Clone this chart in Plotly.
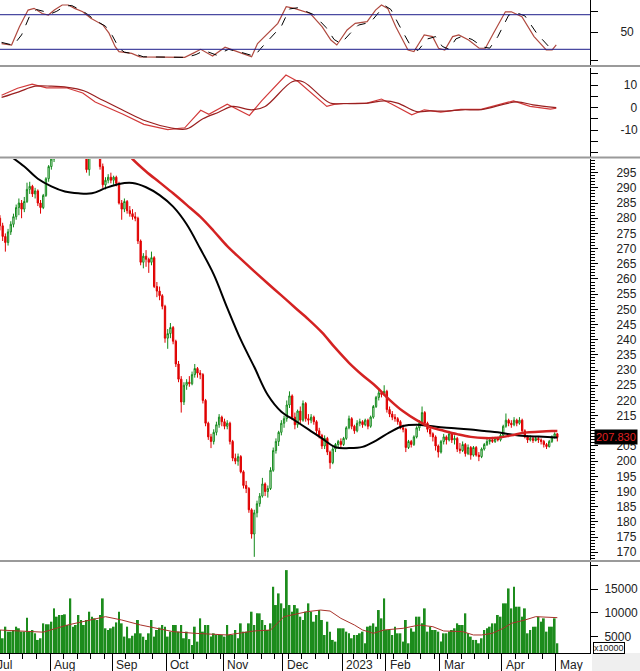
import plotly.graph_objects as go
import pandas as pd

# ---------------- trading calendar ----------------
holidays = {"2022-09-01", "2022-09-02", "2023-01-02", "2023-01-20", "2023-01-23",
            "2023-01-24", "2023-01-25", "2023-01-26", "2023-05-01", "2023-05-02", "2023-05-03"}
dates = [d for d in pd.bdate_range("2022-07-01", "2023-05-04") if d.strftime("%Y-%m-%d") not in holidays]
AUG1 = dates.index(pd.Timestamp("2022-08-01"))
pos = [k - AUG1 for k in range(len(dates))]
month_labels = ["Jul", "Aug", "Sep", "Oct", "Nov", "Dec", "2023", "Feb", "Mar", "Apr", "May"]

# ---------------- price (OHLC) from 2022-07-05 ----------------
open_ = [280, 277.5, 274, 272, 275.5, 278, 280.5, 283.5, 285, 283,
         285.5, 289.5, 290.5, 288, 289, 285, 283.5, 287.5, 293, 297,
         299.5, 302, 304.5, 306, 303.5, 305.5, 308, 310, 307, 309,
         311.5, 309.5, 307, 296, 301, 304, 305.5, 302, 297, 291,
         292.5, 293.5, 292.5, 293.5, 291.5, 285, 283, 285.5, 282.5, 281.5,
         280.5, 280, 272.5, 265.5, 267.5, 266.5, 265.5, 267, 257.5, 256,
         254.5, 251, 240.5, 242, 244, 239.5, 232, 227, 219.5, 225,
         226, 225.5, 228.5, 230.5, 229, 228.5, 220, 212.5, 208, 206.5,
         209.5, 212, 214.5, 213, 211.5, 212.5, 206.5, 201, 200, 201.5,
         196.5, 192, 191, 184, 176, 183, 186, 188.5, 192.5, 190,
         191, 197, 203.5, 206.5, 209.5, 212.5, 214, 218.5, 221.5, 214.5,
         212, 216.5, 213.5, 219, 214, 213.5, 214.5, 213, 210, 208.5,
         205, 207.5, 203, 199.5, 204, 205.5, 206.5, 205.5, 207.5, 211,
         214, 211.5, 210, 212.5, 213, 212, 213.5, 211.5, 214.5, 218,
         221, 222.5, 222, 223, 217, 215.5, 214.5, 214, 213, 211,
         210.5, 204.5, 206.5, 205.5, 208, 211, 212.5, 216, 212.5, 210.5,
         209, 208, 205, 203, 206.5, 208, 207, 209, 207, 207.5,
         204, 203.5, 205.5, 202.5, 204.5, 202, 204.5, 202, 201.5, 204,
         205.5, 206.5, 207, 206.5, 207.5, 207, 208.5, 211.5, 213.5, 212.5,
         212, 213.5, 212.5, 213.5, 210, 208, 207, 207.5, 206.8, 207.5,
         207, 206.5, 205.5, 204.8, 206.5, 208, 209]
high = [281, 278.5, 275, 276.5, 279, 281.5, 284.5, 286.5, 286, 287,
        291.7, 292, 291, 290, 289.5, 286, 288, 293.5, 297.5, 300.5,
        303, 305.5, 307, 307, 306.5, 309, 311, 311, 310, 312.5,
        313, 311, 308, 301.5, 305, 307, 306, 302.5, 298, 293.5,
        294.5, 295, 294, 294, 292, 286, 286.5, 286, 284, 283,
        282, 280.5, 273, 268.5, 269.5, 267, 269, 267.5, 259, 257.5,
        255, 251.5, 243.5, 245.5, 244.5, 240, 233, 228, 226, 227,
        228, 229.5, 232, 231, 230, 229, 220.5, 213, 209, 210.5,
        213, 215.5, 215, 214, 213.5, 213, 207, 202.5, 202.5, 202,
        197, 193.5, 191.5, 184.5, 184, 187, 189.5, 194.5, 193, 192,
        198, 204.5, 207.5, 210, 213.5, 215, 220, 223, 222, 216,
        217, 218, 220, 219.5, 215.5, 215.5, 215, 213.5, 211, 209,
        208.5, 208, 203.5, 205, 206, 207, 207.5, 208, 211.5, 215,
        214.5, 212, 213.5, 214, 213.5, 214, 214, 215, 218.5, 221.5,
        223.5, 223, 225, 223.5, 218, 216.5, 215.5, 214.5, 213.5, 212,
        211, 207, 207, 208.5, 211.5, 213.5, 218, 216.5, 213, 211.5,
        209.5, 208.5, 205.5, 207, 209, 208.5, 210, 209.5, 208.5, 208,
        206, 206.5, 206, 205.5, 205, 205, 205, 203, 204.5, 206,
        207.5, 207.5, 208, 208, 208, 209, 212, 215.7, 214, 213.5,
        214.5, 214, 214.5, 214, 210.5, 208.5, 208.5, 208, 208, 208,
        207.5, 207, 206, 207, 208.5, 209.5, 209.3]
low = [276, 272.5, 269, 271, 274.5, 277, 279.5, 281, 280, 282,
       285, 288, 287, 286.5, 284, 281.5, 283, 287, 292, 296,
       298.5, 301, 302, 302.5, 302.5, 304.5, 307, 306, 306, 308,
       308.5, 306, 295, 294, 300.5, 302.5, 301, 296, 290, 289.5,
       291.5, 291.5, 291, 290.5, 284.5, 279.5, 282, 281.5, 280.5, 279.5,
       279, 271.5, 264.5, 263.5, 264, 262, 264.5, 257, 254, 253,
       250, 239, 237, 240.5, 238.5, 231, 226, 216, 218.5, 223.5,
       224.5, 225, 227.5, 227.5, 227, 219, 211.5, 207, 204.3, 205.5,
       208.5, 211, 211.5, 210.5, 210.5, 205.5, 200, 199, 198.5, 196,
       191, 189.5, 183, 174.5, 168.5, 181.5, 185, 188, 188.5, 188,
       190.5, 196.5, 202.5, 205, 208.5, 211, 213, 217.5, 213.5, 210.5,
       211, 212.5, 213, 213, 212, 212.5, 212, 209, 207.5, 204,
       204, 202, 197.5, 199, 203, 204.5, 204, 205, 207, 210.5,
       210.5, 209, 209.5, 211.5, 211, 211.5, 210.5, 211, 214, 217.5,
       220, 221, 221.5, 216, 214.5, 213.5, 213, 212, 210.5, 209.5,
       203, 204, 204.5, 205, 207.5, 210, 212, 211.5, 209.5, 208,
       206.5, 203.5, 201.2, 202.5, 205.5, 205.5, 206.5, 206, 205.5, 203,
       202.5, 203, 201.5, 202, 200.5, 201.5, 201.5, 200, 201, 203.5,
       205, 205.5, 206, 206, 206.5, 206.5, 208, 211, 211.5, 211,
       211.5, 211.5, 212, 209.5, 207.5, 206, 206.5, 206, 206.5, 206,
       205.5, 204.5, 204, 204.5, 206, 207.5, 206.5]
close = [277.5, 274, 272, 275.5, 278, 280.5, 283.5, 285, 283, 285.5,
         289.5, 290.5, 288, 289, 285, 283.5, 287.5, 293, 297, 299.5,
         302, 304.5, 306, 303.5, 305.5, 308, 310, 307, 309, 311.5,
         309.5, 307, 296, 300.8, 304, 305.5, 302, 297, 291, 292.5,
         293.5, 292.5, 293.5, 291.5, 285, 283, 285.5, 282.5, 281.5, 280.5,
         280, 272.5, 265.5, 267.5, 266.5, 265.5, 267, 257.5, 256, 254.5,
         251, 240.5, 242, 244, 239.5, 232, 227, 219.5, 225, 226,
         225.5, 228.5, 230.5, 229, 228.5, 220, 212.5, 208, 206.5, 209.5,
         212, 214.5, 213, 211.5, 212.5, 206.5, 201, 200, 201.5, 196.5,
         192, 191, 184, 176, 183, 186, 188.5, 192.5, 190, 191,
         197, 203.5, 206.5, 209.5, 212.5, 214, 218.5, 221.5, 214.5, 212,
         216.5, 213.5, 219, 214, 213.5, 214.5, 213, 210, 208.5, 205,
         207.5, 203, 199.5, 204, 205.5, 206.5, 205.5, 207.5, 211, 214,
         211.5, 210, 212.5, 213, 212, 213.5, 211.5, 214.5, 218, 221,
         222.5, 222, 223, 217, 215.5, 214.5, 214, 213, 211, 210.5,
         204.5, 206.5, 205.5, 208, 211, 212.5, 216, 212.5, 210.5, 209,
         208, 205, 203, 206.5, 208, 207, 209, 207, 207.5, 204,
         203.5, 205.5, 202.5, 204.5, 202, 204.5, 202, 201.5, 204, 205.5,
         206.5, 207, 206.5, 207.5, 207, 208.5, 211.5, 213.5, 212.5, 212,
         213.5, 212.5, 213.5, 210, 208, 207, 207.5, 206.8, 207.5, 207,
         206.5, 205.5, 204.8, 206.5, 208, 209, 207.83]
volume = [6410, 4670, 7100, 6060, 6060, 6410, 7100, 6760, 6060, 6060,
          8990, 6060, 6410, 5710, 4320, 4670, 7800, 7600, 7600, 8150,
          10940, 9200, 9550, 9550, 9690, 7450, 13030, 7100, 7450, 9550,
          8500, 7450, 8500, 10240, 9200, 8850, 8500, 9550, 13030, 6760,
          6410, 6760, 7100, 8000, 10240, 7800, 5020, 7100, 4670, 5200,
          5710, 8500, 5710, 5000, 4320, 5710, 8500, 5020, 6410, 6900,
          7450, 7100, 5020, 6060, 7450, 7450, 6060, 7450, 4670, 6060,
          4500, 3270, 7100, 3970, 8850, 6060, 7450, 7450, 5020, 5710,
          5360, 5360, 5360, 5020, 7450, 5360, 5360, 6410, 4670, 7800,
          6060, 6060, 7800, 10240, 7450, 9900, 9900, 8500, 7450, 6410,
          7800, 15470, 11640, 14080, 11990, 10940, 18960, 11640, 10240, 11640,
          10940, 9200, 8500, 10240, 11990, 10240, 8150, 9550, 10590, 8500,
          5360, 8150, 6060, 4320, 3970, 6760, 6760, 6760, 6060, 5710,
          4670, 5360, 5360, 5710, 6060, 3620, 7100, 7300, 7800, 7100,
          10590, 8850, 13030, 6410, 6410, 5360, 7100, 5710, 5710, 3970,
          8500, 3620, 6760, 6060, 9200, 9200, 7800, 10940, 6060, 7100,
          6410, 6410, 6060, 3970, 5710, 5710, 6060, 6410, 6760, 7800,
          7450, 7450, 9900, 5710, 5020, 4320, 4320, 3620, 4670, 6410,
          6760, 7100, 7800, 7800, 9550, 9200, 11990, 11990, 15120, 10940,
          15470, 11290, 11290, 9200, 10940, 5710, 6410, 7100, 7100, 9200,
          8150, 8850, 6060, 7100, 7100, 8850, 3620]
xs = pos[len(pos) - len(close):]
assert len(open_) == len(high) == len(low) == len(close) == len(volume) == len(xs)
last_close = close[-1]

# ---------------- moving averages (sampled) ----------------
ma1_x = [-16, -10, -5, 0, 5, 10, 15, 20, 25, 30, 35, 40, 45, 50, 55, 60, 65, 70, 75, 80, 85,
         90, 95, 100, 105, 110, 115, 120, 125, 130, 135, 140, 145, 150, 155, 160, 165, 170,
         175, 180, 185, 187]
ma1_v = [301, 297, 293, 290.5, 288.8, 288.2, 288.2, 289.9, 291.3, 291.6, 290.2, 287.6, 283.8,
         278, 270, 261.5, 250.5, 240, 231, 221.8, 216.3, 213.4, 210.5, 207.5, 204.6, 204.3,
         204.7, 206.8, 209.5, 211.6, 212, 211.6, 211.1, 210.8, 210.4, 209.9, 209.5, 208.8,
         208.3, 208.1, 207.9, 207.8]
ma2_x = [28, 30, 35, 40, 45, 50, 55, 60, 65, 70, 75, 80, 85, 90, 95, 100, 105, 110, 115, 120,
         125, 130, 135, 140, 145, 150, 155, 160, 165, 170, 175, 180, 185, 187]
ma2_v = [301.5, 299.5, 295.4, 291.8, 288.2, 284.4, 280.5, 275.8, 270.8, 266.6, 262.5, 258.5,
         254.6, 250.6, 246.7, 242.4, 237.2, 232.4, 228.3, 224.6, 220.2, 216.4, 213.5, 211.2,
         210, 208.9, 208, 207.6, 207.7, 208.5, 209.4, 209.7, 209.9, 209.9]

# ---------------- stochastic ----------------
stk_x = [-18.4, -14.7, -11.8, -8.6, -6.4, -3.4, -1.1, 1.1, 4, 6.3, 8.6, 11.6, 14.6, 19.1, 21.3,
         23.6, 25, 29.7, 32.7, 41.6, 49.3, 52.3, 55.2, 59.6, 64.2, 68.7, 74, 76.2, 80.6, 83.7,
         86.8, 89.8, 95.7, 100.1, 103.3, 105.5, 109.3, 112.3, 116.7, 119.8, 122, 124.3, 127.3,
         131.8, 134, 137.8, 140.9, 143.1, 145.4, 148.3, 150.6, 154.2, 158.1, 160.4, 163.4,
         167.8, 170, 173.9, 178.4, 182.9, 185.1, 186.6]
stk_k = [30, 27.5, 59, 88, 91, 82, 79.5, 88, 96.8, 96.8, 91, 85, 74, 62, 48, 24.5, 16, 13, 7, 6,
         6, 13, 20, 8.4, 23.5, 16, 7, 30, 50.5, 65, 94, 91, 82, 59, 36, 27.5, 53.5, 65, 68, 88,
         96.8, 91, 59, 18.8, 16, 44.8, 42, 21.8, 18.8, 42, 44.8, 36, 21.8, 21.8, 47.8, 85, 85,
         76.5, 42, 18.8, 18.8, 27.5]
std_x = [-18.4, -14, -11, -8, -5.5, -3, -0.5, 2, 5, 7.5, 10, 13, 16, 20, 22.5, 25, 27, 31, 34,
         42, 50, 53.5, 56.5, 61, 65.5, 70, 75, 77.5, 82, 85, 88, 91, 97, 101.5, 104.5, 107,
         110.5, 113.5, 118, 121, 123.5, 125.5, 128.5, 133, 135.5, 139, 142, 144.5, 147, 149.5,
         152, 155.5, 159.5, 162, 165, 169, 171.5, 175, 179.5, 184, 186.6]
std_d = [32, 27, 45, 78, 89, 86, 81, 86, 95, 96, 90, 82, 71, 60, 44, 22, 15, 12, 7, 6, 6, 11,
         18, 10, 20, 15, 8, 22, 45, 60, 90, 92, 80, 58, 37, 30, 48, 62, 67, 84, 95, 89, 62, 24,
         18, 38, 42, 25, 20, 38, 43, 37, 24, 22, 42, 79, 84, 78, 47, 24, 20]
stoch_levels = [80, 20]

# ---------------- MACD ----------------
mac_x = [-18.4, -12.5, -7.1, -1.8, 5.5, 11.6, 16.2, 26.5, 34.2, 43, 49.3, 55.2, 58.2, 65, 73.2,
         77.7, 86.7, 91.3, 101.8, 104.8, 109.3, 116.7, 122, 125.9, 133.2, 137.8, 143.9, 151.3,
         158.8, 170.8, 176.9, 184.4, 186.6]
mac_v = [5.5, 8.6, 10.4, 8.8, 8.8, 6.5, 2.5, -3, -7.5, -9.8, -9, -1.2, -3, 1.5, -3.5, 3, 14.5,
         11.5, 0.5, 1.5, 1.8, 2, 3.8, 1.5, -3.2, -1, -2, -0.8, -0.8, 3, 0.5, -0.7, -0.3]
sig_x = [-18.4, -12, -6, 0, 6, 12, 17, 27, 35, 44, 50, 56, 62, 67, 74, 79, 89, 93, 103, 108,
         117, 123, 128, 135, 140, 146, 152, 159, 172, 178, 186.6]
sig_v = [4.5, 7, 9.5, 9.5, 9, 7.5, 4.5, -1.5, -6, -9, -9.5, -5, -2, 0.5, -1, 0.5, 11.5, 11.5,
         2, 1.8, 2, 3, 2, -1.8, -1.5, -1.6, -1, -0.9, 2.5, 1.2, 0]

# ---------------- volume MA ----------------
vma_x = [-19, -3, 6, 20, 26, 33, 45, 53, 65, 75, 81, 86, 94.5, 99.5, 103, 107, 112, 115, 119,
         123, 130, 136, 141, 145, 152, 156, 159, 163, 167, 170, 175, 179, 187]
vma_v = [6400, 5950, 7450, 9200, 8500, 7450, 6060, 5710, 5360, 6200, 6400, 9200, 10240, 10590,
         10380, 8850, 7450, 6410, 5710, 6410, 6760, 7450, 7100, 6200, 6060, 5360, 5360, 5710,
         6760, 7800, 8500, 9200, 8990]

# ---------------- axis ticks ----------------
month_ticks, week_ticks = [], []
for k, d in enumerate(dates):
    if k == 0 or d.month != dates[k - 1].month:
        month_ticks.append(pos[k] - 0.5)
    elif d.isocalendar()[1] != dates[k - 1].isocalendar()[1]:
        week_ticks.append(pos[k] - 0.5)

price_ticks = list(range(170, 300, 5))
price_text = ["" if v == 210 else str(v) for v in price_ticks]  # 210 sits under the last-price box

X0, X1 = -18.98, 199.07
W, H = 640, 671
XDOM = 590 / W
FONT = "Arial, 'Liberation Sans', sans-serif"
RED = "#e00000"
GREEN = "#11891a"

fig = go.Figure()

# stochastic
fig.add_trace(go.Scatter(x=stk_x, y=stk_k, mode="lines", line=dict(color="#b04a40", width=1.2),
                         yaxis="y", xaxis="x"))
fig.add_trace(go.Scatter(x=std_x, y=std_d, mode="lines", line=dict(color="#000000", width=1, dash="dash"),
                         yaxis="y", xaxis="x"))
# MACD
fig.add_trace(go.Scatter(x=mac_x, y=mac_v, mode="lines", line=dict(color="#d23a3a", width=1.2),
                         yaxis="y2", xaxis="x"))
fig.add_trace(go.Scatter(x=sig_x, y=sig_v, mode="lines", line=dict(color="#9a2020", width=1.2, shape="spline"),
                         yaxis="y2", xaxis="x"))
# price
fig.add_trace(go.Candlestick(x=xs, open=open_, high=high, low=low, close=close,
                             increasing=dict(line=dict(color=GREEN, width=1), fillcolor="rgba(255,255,255,0.6)"),
                             decreasing=dict(line=dict(color=RED, width=1), fillcolor=RED),
                             whiskerwidth=0, yaxis="y3", xaxis="x"))
fig.add_trace(go.Scatter(x=ma1_x, y=ma1_v, mode="lines", line=dict(color="#000000", width=2, shape="spline"),
                         yaxis="y3", xaxis="x"))
fig.add_trace(go.Scatter(x=ma2_x, y=ma2_v, mode="lines", line=dict(color="#d42222", width=2.5, shape="spline"),
                         yaxis="y3", xaxis="x"))
# volume
fig.add_trace(go.Bar(x=xs, y=volume, marker=dict(color="#1c8c1c", line=dict(width=0)),
                     yaxis="y4", xaxis="x"))
fig.add_trace(go.Scatter(x=vma_x, y=vma_v, mode="lines", line=dict(color="#a8322a", width=1),
                         yaxis="y4", xaxis="x"))

def dom(top_px, bot_px):
    return [1 - bot_px / H, 1 - top_px / H]

yax_common = dict(side="right", anchor="x", showgrid=False, zeroline=False, showline=True,
                  linecolor="#000000", linewidth=1, ticks="outside", tickcolor="#000000",
                  ticklen=7, tickfont=dict(family=FONT, size=12, color="#222222"),
                  fixedrange=True)

nb = "\u00a0"
fig.update_layout(
    width=W, height=H, margin=dict(l=0, r=0, t=0, b=0),
    paper_bgcolor="white", plot_bgcolor="white", showlegend=False, bargap=0.3,
    xaxis=dict(domain=[0, XDOM], range=[X0, X1], anchor="y4", showgrid=False, zeroline=False,
               showline=True, linecolor="#000000", linewidth=1, rangeslider=dict(visible=False),
               tickmode="array", tickvals=month_ticks, ticks="outside", ticklen=18,
               tickcolor="#000000", showticklabels=False,
               minor=dict(tickmode="array", tickvals=week_ticks, ticks="outside", ticklen=5,
                          tickcolor="#000000")),
    yaxis=dict(domain=dom(0, 65), range=[-7.2, 105.5], tickmode="array",
               tickvals=[0, 50, 85], ticktext=["", "50", ""], ticklabelstandoff=20, **yax_common),
    yaxis2=dict(domain=dom(68, 157), range=[-22, 17.6], tickmode="array",
                tickvals=[-20, -15, -10, -5, 0, 5, 10, 15],
                ticktext=["", "", "-10", "", nb * 3 + "0", "", nb + "10", ""],
                ticklabelstandoff=20, **yax_common),
    yaxis3=dict(domain=dom(159, 560), range=[167.46, 299.5], tickmode="array",
                tickvals=price_ticks, ticktext=price_text, ticklabelstandoff=16,
                minor=dict(dtick=1, ticks="outside", ticklen=4, tickcolor="#000000"),
                **yax_common),
    yaxis4=dict(domain=dom(562, 653), range=[1583, 20660], tickmode="array",
                tickvals=[5000, 10000, 15000, 20000], ticktext=["5000", "10000", "15000", ""],
                ticklabelstandoff=4, **yax_common),
)

shapes = []
# panel separators
for ysep in [66, 157.5, 561]:
    shapes.append(dict(type="line", xref="paper", yref="paper", x0=0, x1=1,
                       y0=1 - ysep / H, y1=1 - ysep / H, line=dict(color="#9a9a9a", width=2)))
# stochastic reference lines
for lv in stoch_levels:
    shapes.append(dict(type="line", xref="x domain", yref="y", x0=0, x1=1, y0=lv, y1=lv,
                       line=dict(color="#1c1c8a", width=1)))
# bottom-right gray corner
shapes.append(dict(type="rect", xref="paper", yref="paper", x0=592 / W, x1=1, y0=0, y1=1 - 653 / H,
                   fillcolor="#efefef", line=dict(width=0), layer="below"))
fig.update_layout(shapes=shapes)

ann = []
for t, lab in zip(month_ticks, month_labels):
    if t < X0:
        ann.append(dict(xref="x domain", x=(t - X0) / (X1 - X0), yref="paper", y=1 - 665 / H,
                        text=lab, showarrow=False, xanchor="left", yanchor="middle", xshift=2,
                        font=dict(family=FONT, size=12, color="#222222")))
    else:
        ann.append(dict(xref="x", x=t, yref="paper", y=1 - 665 / H, text=lab, showarrow=False,
                        xanchor="left", yanchor="middle", xshift=2,
                        font=dict(family=FONT, size=12, color="#222222")))
# last price label
ann.append(dict(xref="paper", x=594 / W, yref="y3", y=last_close, text=f"{last_close:.3f}",
                showarrow=False, xanchor="left", yanchor="middle", bgcolor="#000000",
                font=dict(family=FONT, size=11, color="#e02020"), borderpad=1))
# volume unit box
ann.append(dict(xref="paper", x=593 / W, yref="paper", y=1 - 647.5 / H, text="x10000",
                showarrow=False, xanchor="left", yanchor="middle", bgcolor="white",
                bordercolor="#000000", borderwidth=1, borderpad=0,
                font=dict(family=FONT, size=9, color="#222222")))
fig.update_layout(annotations=ann)

fig.write_html("out.html")
